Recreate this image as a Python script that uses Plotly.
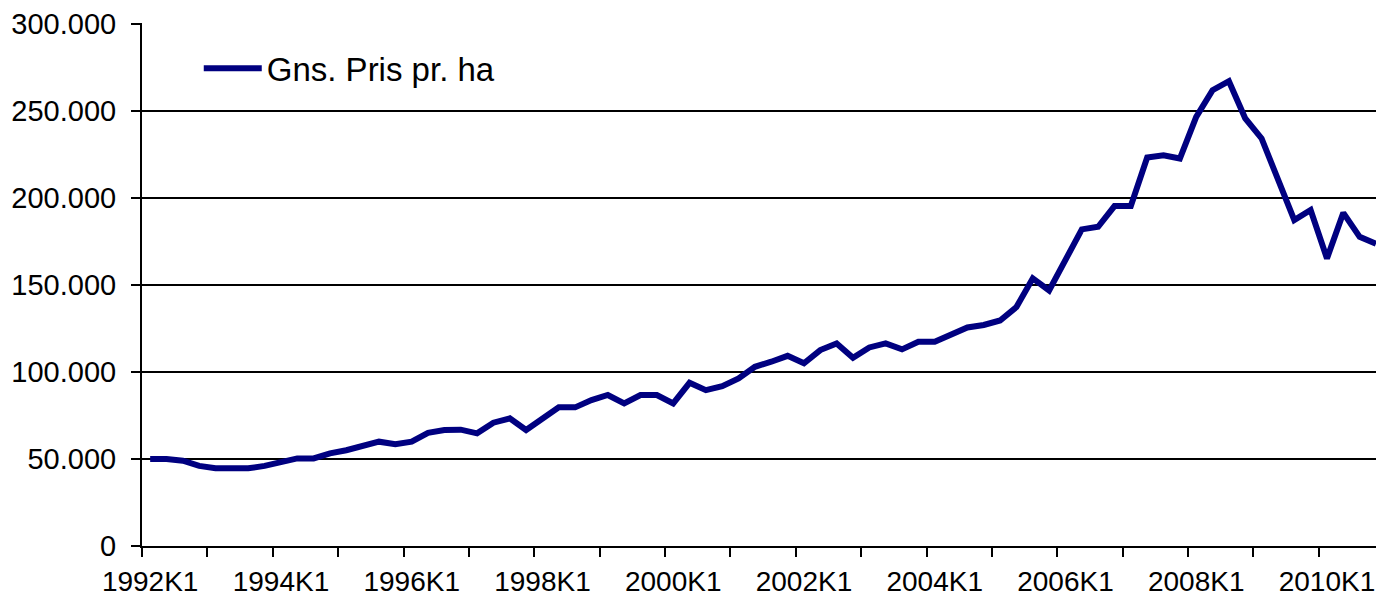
import plotly.graph_objects as go

# Quarterly categories 1992K1 .. 2010K4
years = list(range(1992, 2011))
quarters = [f"{y}K{q}" for y in years for q in range(1, 5)]

# Average price per hectare (DKK)
price = [
    50000, 50000, 49000, 46000, 44600, 44600, 44600, 46000,
    47800, 50300, 50300, 53200, 55000, 57600, 59900, 58400,
    59900, 65000, 66600, 66800, 64700, 70800, 73300, 66600,
    73300, 79600, 79600, 83800, 86700, 81900, 86700, 86700,
    81900, 93700, 89500, 91800, 96200, 102900, 105800, 109200,
    104900, 112500, 116300, 108100, 114000, 116300, 112900, 117300,
    117300, 121700, 125500, 126900, 129500, 137200, 153700, 146700,
    164200, 181800, 183300, 195200, 195200, 223100, 224400, 222500,
    246400, 261700, 266900, 245500, 234000, 210000, 187100, 192900,
    165100, 191300, 177500, 173500,
]
series_name = "Gns. Pris pr. ha"

# category positions (centre of each category slot)
xpos = [i + 0.5 for i in range(len(quarters))]

# tick marks at year boundaries, labels every second year at category centres
tick_vals = [i for i in range(0, len(quarters) + 1, 4)]
label_vals = [i + 0.5 for i in range(0, len(quarters), 8)]
label_text = [quarters[i] for i in range(0, len(quarters), 8)]
y_ticks = [0, 50000, 100000, 150000, 200000, 250000, 300000]

FONT = "Arial, Liberation Sans, sans-serif"

fig = go.Figure()
fig.add_trace(go.Scatter(
    x=xpos, y=price, mode="lines", name=series_name,
    line=dict(color="#000080", width=6),
    customdata=quarters,
    hovertemplate="%{customdata}: %{y:,.0f}<extra></extra>",
))

fig.update_layout(
    width=1376, height=605,
    margin=dict(l=142, r=0, t=23, b=59, autoexpand=False),
    paper_bgcolor="white", plot_bgcolor="white",
    separators=",.",
    font=dict(family=FONT, size=28, color="black"),
    showlegend=True,
    legend=dict(
        x=0.046, y=0.967, xanchor="left", yanchor="top",
        bgcolor="rgba(0,0,0,0)", borderwidth=0,
        font=dict(family=FONT, size=33, color="black"),
        itemwidth=58,
    ),
    xaxis=dict(
        range=[0, 75.5], automargin=False,
        tickmode="array", tickvals=label_vals, ticktext=label_text,
        ticks="", ticklabelstandoff=9, ticklabeloverflow="allow",
        tickfont=dict(family=FONT, size=28, color="black"),
        minor=dict(tickmode="array", tickvals=tick_vals, ticks="outside",
                   ticklen=9, tickwidth=2, tickcolor="black", showgrid=False),
        showgrid=False, zeroline=False,
        showline=True, linecolor="black", linewidth=2,
    ),
    yaxis=dict(
        range=[0, 300300], tickmode="array", tickvals=y_ticks,
        tickformat=",d", automargin=False, ticklabeloverflow="allow",
        ticks="outside", ticklen=9, tickwidth=2, tickcolor="black",
        showgrid=True, gridcolor="black", gridwidth=2,
        zeroline=False, showline=True, linecolor="black", linewidth=2,
        tickfont=dict(family=FONT, size=29, color="black"),
        ticklabelstandoff=9,
    ),
)

fig.write_html(
    "out.html",
    config={"displayModeBar": False},
    post_script="document.body.style.margin='0';document.body.style.overflow='hidden';",
)
